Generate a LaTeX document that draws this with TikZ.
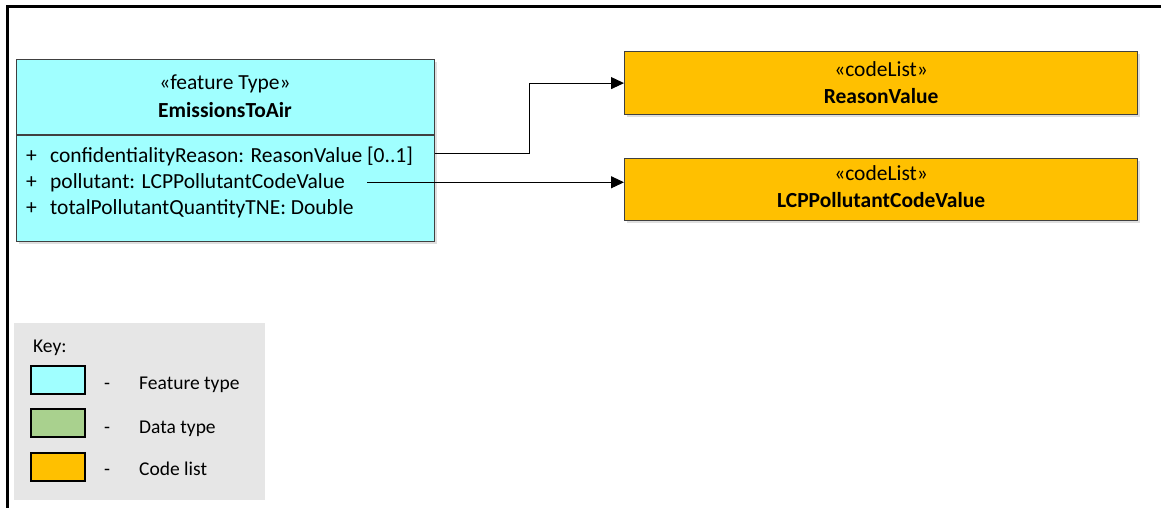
\documentclass[tikz,border=0pt]{standalone}
\usepackage{fontspec}
\setmainfont{Carlito}
\usetikzlibrary{arrows.meta,positioning,shadows}
\definecolor{ftcyan}{RGB}{160,255,255}
\definecolor{clorange}{RGB}{255,192,0}
\definecolor{dtgreen}{RGB}{169,209,142}
\definecolor{keygray}{RGB}{230,230,230}

\begin{document}
\begin{tikzpicture}[x=1pt,y=-1pt,
  umlbox/.style={draw=black!75,line width=1.2pt,inner sep=0pt,anchor=north west,
    drop shadow={shadow xshift=2pt,shadow yshift=-2pt,opacity=0.25}},
  boxtext/.style={font=\fontsize{21.5}{27}\selectfont,align=center},
  attr/.style={anchor=base west,inner sep=0pt,font=\fontsize{21.5}{25}\selectfont},
  keyswatch/.style={draw=black,line width=2pt,minimum width=54pt,minimum height=28pt,inner sep=0pt},
  keytext/.style={anchor=base west,inner sep=0pt,font=\fontsize{19.5}{23}\selectfont},
  assoc/.style={line width=1pt,-{Triangle[length=13pt,width=12pt]}}]
\useasboundingbox (0,0) rectangle (1161,508);

% frame
\draw[line width=3pt] (7.5,508) -- (7.5,6.5) -- (1161,6.5);

% feature type
\node[umlbox,fill=ftcyan,minimum width=418pt,minimum height=182pt] (feat) at (16,59) {};
\draw[black!75,line width=1.2pt] (feat.west |- 0,135) -- (feat.east |- 0,135);
\node[boxtext,font=\fontsize{21.5}{28.5}\selectfont] (featname) at (225,96) {«feature Type»\\\textbf{EmissionsToAir}};
\node[attr] (p1) at (26,162) {+};
\node[attr] (attr1) at (50,162) {confidentialityReason: ReasonValue [0..1]};
\node[attr] (p2) at (26,188) {+};
\node[attr] (attr2) at (50,188) {pollutant: LCPPollutantCodeValue};
\node[attr] (p3) at (26,214) {+};
\node[attr] (attr3) at (50,214) {totalPollutantQuantityTNE: Double};

% code lists
\node[umlbox,fill=clorange,minimum width=513pt,minimum height=63pt] (reason) at (624,51) {};
\node[boxtext] at (reason.center) {«codeList»\\\textbf{ReasonValue}};
\node[umlbox,fill=clorange,minimum width=513pt,minimum height=62pt] (lcpcode) at (624,158) {};
\node[boxtext] at ([yshift=3pt]lcpcode.center) {«codeList»\\\textbf{LCPPollutantCodeValue}};

\draw[assoc] ([yshift=2pt]feat.east |- attr1.center) -- ++(94,0) |- (reason.west);
\draw[assoc] ([xshift=22pt]attr2.east) -- (attr2.east -| lcpcode.west);

% key
\node[fill=keygray,minimum width=251pt,minimum height=177pt,inner sep=0pt,anchor=north west] (key) at (14,323) {};
\node[keytext] (keytitle) at (33,352) {Key:};
\node[keyswatch,fill=ftcyan] (swft) at (57.5,379.5) {};
\node[keyswatch,fill=dtgreen] (swdt) at (57.5,422.5) {};
\node[keyswatch,fill=clorange] (swcl) at (57.5,467) {};
\node[keytext] (dft) at (104,389) {-};
\node[keytext] (ddt) at (104,433) {-};
\node[keytext] (dcl) at (104,475) {-};
\node[keytext] (lft) at (139,389) {Feature type};
\node[keytext] (ldt) at (139,433) {Data type};
\node[keytext] (lcl) at (139,475) {Code list};
\end{tikzpicture}
\end{document}
